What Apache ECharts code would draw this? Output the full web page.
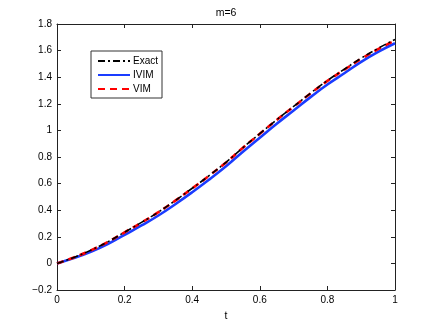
<!DOCTYPE html>
<html>
<head>
<meta charset="utf-8">
<script src="https://cdn.jsdelivr.net/npm/echarts@6/dist/echarts.min.js"></script>
<style>html,body{margin:0;padding:0;background:#fff;}#c{width:436px;height:327px;}</style>
</head>
<body>
<div id="c"></div>
<script>
var tVals = [0,0.05,0.1,0.15,0.2,0.25,0.3,0.35,0.4,0.45,0.5,0.55,0.6,0.65,0.7,0.75,0.8,0.85,0.9,0.95,1];
var exactVals = [0,0.045,0.099,0.162,0.235,0.308,0.386,0.473,0.565,0.66,0.76,0.87,0.975,1.08,1.18,1.28,1.375,1.46,1.543,1.617,1.684];
var ivimVals = [0,0.04,0.087,0.145,0.215,0.285,0.36,0.445,0.535,0.63,0.73,0.84,0.945,1.05,1.15,1.25,1.345,1.43,1.515,1.59,1.655];
var vimVals = [0,0.045,0.098,0.161,0.234,0.307,0.385,0.472,0.564,0.659,0.759,0.869,0.974,1.079,1.178,1.277,1.372,1.456,1.538,1.611,1.676];
var xTicks = [0,0.2,0.4,0.6,0.8,1];
var yTicks = [-0.2,0,0.2,0.4,0.6,0.8,1,1.2,1.4,1.6,1.8];
var titleText = 'm=6';
var xName = 't';
var seriesNames = ['Exact','IVIM','VIM'];

function pairs(ys){ return tVals.map(function(t,i){ return [t, ys[i]]; }); }
function fmt(v){ var s = String(Math.round(v*10)/10); return s.replace('-', '\u2212'); }

var axisLineStyle = {color:'#222', width:1};
var font = 'Liberation Sans, Arial, Helvetica, sans-serif';

function mkX(extra){
  return Object.assign({
    type:'value', min:xTicks[0], max:xTicks[xTicks.length-1], interval:0.2,
    axisLine:{show:true, onZero:false, lineStyle:axisLineStyle},
    axisTick:{show:true, inside:true, length:4, lineStyle:axisLineStyle},
    splitLine:{show:false}
  }, extra);
}
function mkY(extra){
  return Object.assign({
    type:'value', min:yTicks[0], max:yTicks[yTicks.length-1], interval:0.2,
    axisLine:{show:true, onZero:false, lineStyle:axisLineStyle},
    axisTick:{show:true, inside:true, length:4, lineStyle:axisLineStyle},
    splitLine:{show:false}
  }, extra);
}

var chart = echarts.init(document.getElementById('c'), null, {renderer:'canvas'});
chart.setOption({
  animation:false,
  backgroundColor:'#fff',
  grid:{left:57, right:41, top:24, bottom:36, containLabel:false},
  graphic:[{type:'text', x:226, y:13, style:{text:titleText, fill:'#000', font:'10.5px ' + font, align:'center', verticalAlign:'middle'}}],
  legend:{
    orient:'vertical', left:91, top:51,
    data:seriesNames,
    itemWidth:32, itemHeight:10, itemGap:4,
    padding:[5,4,4,6],
    borderColor:'#333', borderWidth:1, backgroundColor:'#fff',
    itemStyle:{opacity:0},
    textStyle:{fontSize:10, color:'#000', fontFamily:font, padding:[0,0,0,-2]}
  },
  xAxis:[
    mkX({position:'bottom', name:xName, nameLocation:'middle', nameGap:21,
         nameTextStyle:{fontSize:10.5, color:'#000', fontFamily:font},
         axisLabel:{fontSize:10, color:'#000', fontFamily:font, margin:5, formatter:fmt}}),
    mkX({position:'top', axisLabel:{show:false}})
  ],
  yAxis:[
    mkY({position:'left', axisLabel:{fontSize:10, color:'#000', fontFamily:font, margin:5, formatter:fmt}}),
    mkY({position:'right', axisLabel:{show:false}})
  ],
  series:[
    {name:seriesNames[0], type:'line', data:pairs(exactVals), smooth:true, symbol:'none',
     lineStyle:{color:'#000', width:1.6, type:[7,3,2,3]}, itemStyle:{color:'#000'}, z:3},
    {name:seriesNames[1], type:'line', data:pairs(ivimVals), smooth:true, symbol:'none',
     lineStyle:{color:'#1a3cff', width:2.6}, itemStyle:{color:'#1a3cff'}, z:2},
    {name:seriesNames[2], type:'line', data:pairs(vimVals), smooth:true, symbol:'none',
     lineStyle:{color:'#ff0000', width:2.6, type:[7,5]}, itemStyle:{color:'#ff0000'}, z:2}
  ]
});
</script>
</body>
</html>
